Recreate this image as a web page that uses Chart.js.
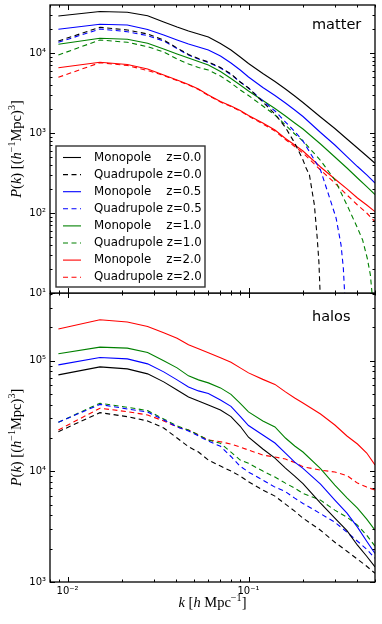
<!DOCTYPE html>
<html>
<head>
<meta charset="utf-8">
<script src="https://cdn.jsdelivr.net/npm/chart.js@4.4.0/dist/chart.umd.min.js"></script>
<style>
  body { margin: 0; background: #fff; }
  #wrap { position: relative; width: 382px; height: 624px; }
  canvas { position: absolute; left: 0; }
</style>
</head>
<body>
<div id="wrap">
  <canvas id="matterChart" width="382" height="305" style="top:0px"></canvas>
  <canvas id="haloChart" width="382" height="331" style="top:293px"></canvas>
</div>
<script>
// k bins in h/Mpc
const redshifts = ['0.0', '0.5', '1.0', '2.0'];
const kBins = [0.0089, 0.0151, 0.0214, 0.0277, 0.034, 0.0403, 0.0466, 0.0529, 0.06, 0.07, 0.08, 0.09,
               0.1, 0.12, 0.14, 0.16, 0.18, 0.2, 0.25, 0.3, 0.35, 0.4, 0.45, 0.5];

// matter, monopole
const mMonoZ0  = [29000, 33000, 32300, 29250, 24400, 21100, 18800, 17300, 15850, 13150, 10900, 8910, 7390, 5540, 4400, 3550, 2900, 2405, 1585, 1138, 841, 649, 516, 418];
const mMonoZ05 = [19780, 22850, 22390, 19670, 16790, 14540, 12960, 11890, 10900, 9170, 7500, 6130, 5010, 3705, 2943, 2371, 1939, 1608, 1014, 708, 508, 381, 299, 237];
const mMonoZ1  = [12845, 15260, 14830, 13220, 11220, 9716, 8660, 7830, 7080, 5870, 4800, 3980, 3350, 2547, 2023, 1631, 1334, 1122, 729, 501, 365, 274, 214, 170];
const mMonoZ2  = [6550, 7650, 7180, 6310, 5310, 4600, 4040, 3550, 2985, 2475, 2175, 1910, 1655, 1334, 1090, 853, 708, 596, 376, 266, 200, 154, 126, 104];

// matter, quadrupole (the low-z ones drop through zero)
const kQuadZ0  = [0.0089, 0.0151, 0.0214, 0.0277, 0.034, 0.0403, 0.0466, 0.0529, 0.06, 0.07, 0.08, 0.09,
                  0.1, 0.12, 0.14, 0.16, 0.18, 0.2, 0.2081, 0.2171, 0.2312, 0.2397, 0.2449, 0.2487, 0.25];
const mQuadZ0  = [14130, 20950, 19400, 17290, 14540, 11550, 9580, 8540, 7720, 6590, 5470, 4340, 3650, 2440, 1727, 1172, 750, 460, 365, 299, 126, 48.7, 24.4, 10, 2];
const kQuadZ05 = [0.0089, 0.0151, 0.0214, 0.0277, 0.034, 0.0403, 0.0466, 0.0529, 0.06, 0.07, 0.08, 0.09,
                  0.1, 0.12, 0.14, 0.16, 0.18, 0.2, 0.25, 0.2798, 0.3046, 0.3245, 0.3342, 0.3398, 0.342];
const mQuadZ05 = [13610, 19950, 18460, 16460, 14130, 11380, 9440, 8410, 7610, 6490, 5380, 4340, 3650, 2512, 1884, 1372, 1044, 794, 345, 158, 87, 40, 20.5, 10, 2];
const kQuadZ1  = [0.0089, 0.0151, 0.0214, 0.0277, 0.034, 0.0403, 0.0466, 0.0529, 0.06, 0.07, 0.08, 0.09,
                  0.1, 0.12, 0.14, 0.16, 0.18, 0.2, 0.25, 0.3, 0.35, 0.4, 0.4271, 0.4534, 0.4711, 0.4814, 0.486];
const mQuadZ1  = [9440, 14540, 13610, 11990, 10290, 8410, 7290, 6590, 6130, 5160, 4220, 3450, 2943, 2175, 1679, 1259, 972, 794, 455, 259, 126, 65, 46, 27, 17, 10, 2];
const mQuadZ2  = [4970, 7560, 6980, 6040, 5230, 4530, 3980, 3500, 2943, 2440, 2144, 1884, 1631, 1296, 1059, 829, 678, 562, 345, 237, 168, 126, 100, 78];

// halos, monopole
const hMonoZ0  = [74220, 87700, 84130, 75800, 64170, 54300, 46940, 43180, 39720, 35790, 31200, 25500, 20300, 15900, 13160, 10690, 9050, 7740, 5156, 3771, 2906, 2149, 1708, 1367];
const hMonoZ05 = [91430, 106450, 103600, 93360, 79030, 66900, 57800, 53190, 50480, 44100, 38600, 31300, 25900, 21270, 17990, 14610, 12110, 10620, 7660, 5486, 4183, 3127, 2335, 1807];
const hMonoZ1  = [115000, 132250, 129500, 118150, 99380, 85900, 72700, 66900, 62850, 56620, 49500, 41000, 34400, 28460, 25120, 19970, 16900, 14920, 10580, 7500, 5756, 4645, 3694, 2936];
const hMonoZ2  = [192400, 233600, 222600, 203100, 178200, 158800, 138700, 127600, 117400, 105800, 96320, 85900, 77380, 67600, 60900, 52100, 45970, 41410, 32940, 26190, 20830, 17620, 14610, 11380];

// halos, quadrupole
const hQuadZ0  = [22780, 33840, 31140, 28460, 24600, 19970, 16660, 14920, 12630, 11150, 10040, 9050, 8035, 6757, 5965, 5048, 4362, 3771, 2936, 2287, 1897, 1605, 1387, 1199];
const hQuadZ05 = [27700, 40140, 36560, 34340, 29090, 25120, 23110, 20830, 18760, 16800, 13600, 11100, 9835, 8325, 7195, 6550, 5721, 5122, 4140, 3469, 2817, 2335, 1976, 1639];
const hQuadZ1  = [27700, 41160, 37880, 35280, 29680, 25650, 23600, 21270, 19150, 17890, 14900, 12630, 11790, 10040, 8860, 7815, 7044, 6310, 5486, 4455, 3850, 3259, 2645, 2104];
const hQuadZ2  = [23600, 37100, 34550, 32260, 28460, 25120, 23600, 21270, 19150, 18490, 17620, 16560, 15550, 14010, 13440, 12890, 11990, 10980, 10250, 9835, 9144, 7815, 7195, 6757];

const lineColors = ['#000000', '#0000ff', '#008000', '#ff0000'];
const SANS = '"DejaVu Sans", sans-serif';
const SERIF = '"Liberation Serif", serif';

const SUP = { '0': '⁰', '1': '¹', '2': '²', '3': '³', '4': '⁴', '5': '⁵', '6': '⁶', '7': '⁷', '8': '⁸', '9': '⁹', '-': '⁻' };
function decadeLabel(v) {
    const e = Math.log10(v);
    if (Math.abs(e - Math.round(e)) > 1e-6) return '';
    return '10' + String(Math.round(e)).split('').map(c => SUP[c]).join('');
}

function pts(ks, ps) {
    return ks.map((k, i) => ({ x: k, y: ps[i] }));
}

function buildSets(monos, quadKs, quads) {
    const sets = [];
    redshifts.forEach((z, i) => {
        sets.push({ label: 'Monopole    z=' + z, data: pts(kBins, monos[i]), borderColor: lineColors[i],
                    borderWidth: 1.1, pointRadius: 0, borderDash: [] });
        sets.push({ label: 'Quadrupole z=' + z, data: pts(quadKs[i], quads[i]), borderColor: lineColors[i],
                    borderWidth: 1.1, pointRadius: 0, borderDash: [5, 3.5] });
    });
    return sets;
}

// mixed italic / roman / superscript text, like mathtext
const yTitleParts = [
    { t: 'P', i: 1 }, { t: '(' }, { t: 'k', i: 1 }, { t: ') [(' }, { t: 'h', i: 1 },
    { t: '−1', s: 1 }, { t: 'Mpc)' }, { t: '3', s: 1 }, { t: ']' }
];
const xTitleParts = [
    { t: 'k', i: 1 }, { t: ' [' }, { t: 'h', i: 1 }, { t: ' Mpc' }, { t: '−1', s: 1 }, { t: ']' }
];

function drawRich(ctx, parts, size, cx, cy, rotate) {
    const font = p => (p.i ? 'italic ' : '') + (p.s ? size * 0.7 : size) + 'px ' + SERIF;
    let w = 0;
    const widths = parts.map(p => { ctx.font = font(p); const m = ctx.measureText(p.t).width; w += m; return m; });
    ctx.save();
    ctx.translate(cx, cy);
    if (rotate) ctx.rotate(-Math.PI / 2);
    ctx.fillStyle = '#000';
    ctx.textBaseline = 'alphabetic';
    ctx.textAlign = 'left';
    let x = -w / 2;
    const base = size * 0.33;
    parts.forEach((p, i) => {
        ctx.font = font(p);
        ctx.fillText(p.t, x, base - (p.s ? size * 0.42 : 0));
        x += widths[i];
    });
    ctx.restore();
}

function logSteps(min, max) {
    const out = [];
    for (let d = Math.floor(Math.log10(min)); d <= Math.ceil(Math.log10(max)); d++) {
        for (let m = 1; m <= 9; m++) {
            const v = m * Math.pow(10, d);
            if (v >= min * 0.9999 && v <= max * 1.0001) out.push({ v: v, major: m === 1 });
        }
    }
    return out;
}

const framePlugin = {
    id: 'panelDecor',
    afterDatasetsDraw(chart, args, opts) {
        const { ctx, chartArea: a, scales: { x, y } } = chart;
        ctx.save();
        ctx.strokeStyle = '#000';
        ctx.lineWidth = 1;
        // inward ticks on all four sides
        logSteps(x.min, x.max).forEach(t => {
            const px = Math.round(x.getPixelForValue(t.v)) + 0.5;
            const len = t.major ? 5 : 2.5;
            ctx.beginPath();
            ctx.moveTo(px, a.bottom); ctx.lineTo(px, a.bottom - len);
            ctx.moveTo(px, a.top); ctx.lineTo(px, a.top + len);
            ctx.stroke();
        });
        logSteps(y.min, y.max).forEach(t => {
            const py = Math.round(y.getPixelForValue(t.v)) + 0.5;
            const len = t.major ? 5 : 2.5;
            ctx.beginPath();
            ctx.moveTo(a.left, py); ctx.lineTo(a.left + len, py);
            ctx.moveTo(a.right, py); ctx.lineTo(a.right - len, py);
            ctx.stroke();
        });
        ctx.lineWidth = 1.3;
        ctx.strokeRect(a.left, a.top, a.right - a.left, a.bottom - a.top);

        // panel name
        ctx.fillStyle = '#000';
        ctx.font = '14.5px ' + SANS;
        ctx.textBaseline = 'middle';
        ctx.fillText(opts.name, a.left + 262, a.top + opts.nameDy);

        // legend
        if (opts.legend) {
            const bx = a.left + 6, by = a.top + 141, bw = 149, bh = a.bottom - 6 - by;
            ctx.fillStyle = '#fff';
            ctx.fillRect(bx, by, bw, bh);
            ctx.strokeStyle = '#333';
            ctx.lineWidth = 1.4;
            ctx.strokeRect(bx, by, bw, bh);
            ctx.font = '11.8px ' + SANS;
            ctx.textBaseline = 'middle';
            chart.data.datasets.forEach((ds, i) => {
                const ry = by + 11.5 + i * 17.1;
                ctx.strokeStyle = ds.borderColor;
                ctx.lineWidth = 1.1;
                ctx.setLineDash(ds.borderDash);
                ctx.beginPath();
                ctx.moveTo(bx + 7, ry); ctx.lineTo(bx + 25, ry);
                ctx.stroke();
                ctx.setLineDash([]);
                ctx.fillStyle = '#000';
                ctx.fillText(ds.label, bx + 38, ry);
            });
        }
        ctx.restore();

        drawRich(ctx, yTitleParts, 14.5, 16, (a.top + a.bottom) / 2, true);
        if (opts.xTitle) drawRich(ctx, xTitleParts, 14.5, (a.left + a.right) / 2, a.bottom + 20);
    }
};

function makeChart(id, sets, yMin, yMax, panel) {
    const context = document.getElementById(id).getContext('2d');
    return new Chart(context, {
        type: 'line',
        data: { datasets: sets },
        options: {
            responsive: false,
            animation: false,
            layout: { padding: panel.padding },
            elements: { line: { tension: 0, fill: false } },
            scales: {
                x: {
                    type: 'logarithmic', min: 0.008, max: 0.5,
                    display: panel.xTitle,
                    grid: { display: false, drawTicks: false },
                    border: { display: false },
                    ticks: { autoSkip: false, maxRotation: 0, padding: 3, color: '#000',
                             font: { family: SANS, size: 10 }, callback: v => decadeLabel(v) },
                    afterFit: s => {
                        s.height = panel.xTitle ? 42 : 0;
                        s.paddingLeft = 0; s.paddingRight = 0;
                    }
                },
                y: {
                    type: 'logarithmic', min: yMin, max: yMax,
                    grid: { display: false, drawTicks: false },
                    border: { display: false },
                    ticks: { autoSkip: false, padding: 4, color: '#000',
                             font: { family: SANS, size: 10 }, callback: v => decadeLabel(v) },
                    afterFit: s => { s.width = 50; s.paddingTop = 0; s.paddingBottom = 0; }
                }
            },
            plugins: {
                legend: { display: false },
                tooltip: { enabled: false },
                panelDecor: panel
            }
        },
        plugins: [framePlugin]
    });
}

const matterChart = makeChart('matterChart',
    buildSets([mMonoZ0, mMonoZ05, mMonoZ1, mMonoZ2], [kQuadZ0, kQuadZ05, kQuadZ1, kBins], [mQuadZ0, mQuadZ05, mQuadZ1, mQuadZ2]),
    10, 39810,
    { name: 'matter', nameDy: 20, legend: true, xTitle: false, padding: { top: 5, right: 7, bottom: 12, left: 0 } });

const haloChart = makeChart('haloChart',
    buildSets([hMonoZ0, hMonoZ05, hMonoZ1, hMonoZ2], [kBins, kBins, kBins, kBins], [hQuadZ0, hQuadZ05, hQuadZ1, hQuadZ2]),
    1000, 407400,
    { name: 'halos', nameDy: 24, legend: false, xTitle: true, padding: { top: 0, right: 7, bottom: 0, left: 0 } });
</script>
</body>
</html>
